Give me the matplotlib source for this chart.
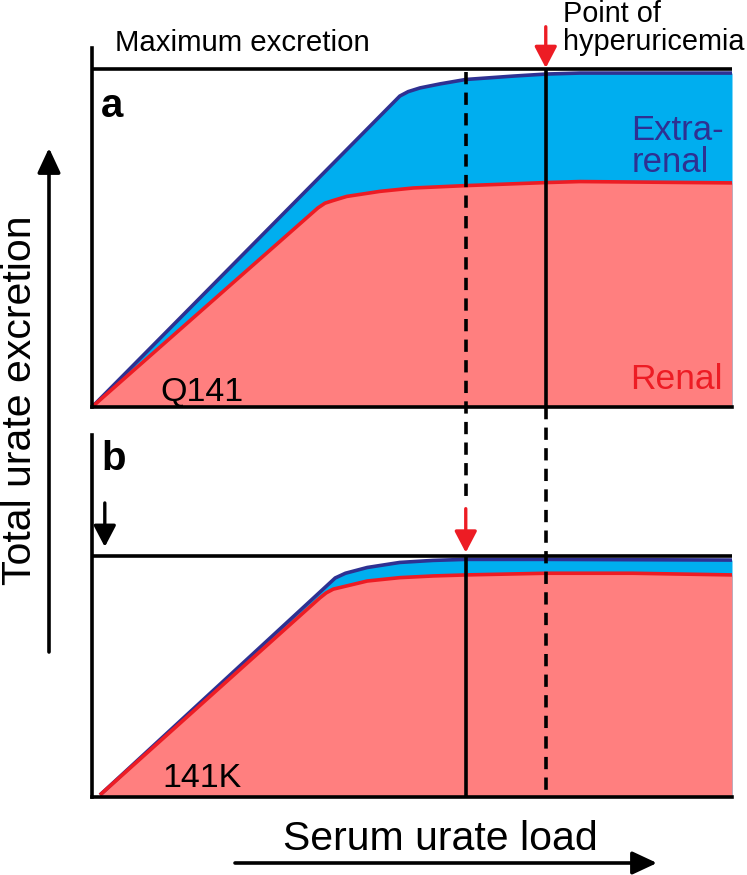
import matplotlib
matplotlib.use('Agg')
import matplotlib.pyplot as plt
from matplotlib.transforms import blended_transform_factory

plt.rcParams['font.family'] = ['Liberation Sans', 'DejaVu Sans']

# ---------------- data (serum urate load 0-100, excretion 0-100 = max in panel a)
x_total_a = [0, 48.1, 49.4, 51.25, 54.4, 58.4, 65.8, 70.9, 76.25, 100]
y_total_a = [0, 92.0, 93.3, 94.4, 95.6, 96.9, 97.9, 98.5, 98.8, 98.8]
x_renal_a = [0, 35.3, 36.4, 37.7, 39.8, 45.0, 50.2, 58.4, 70.9, 76.25, 100]
y_renal_a = [0, 58.9, 60.3, 61.1, 62.3, 63.8, 64.8, 65.5, 66.4, 66.7, 66.3]

x_total_b = [1.25, 38.0, 39.6, 43.0, 48.1, 53.3, 58.4, 70.9, 100]
y_total_b = [0.6, 64.8, 66.2, 67.9, 69.4, 70.0, 70.3, 70.3, 70.1]
x_renal_b = [1.25, 35.6, 36.6, 37.7, 43.0, 48.1, 53.3, 58.4, 70.9, 84.5, 100]
y_renal_b = [0.6, 58.9, 60.4, 61.5, 63.9, 64.9, 65.4, 65.7, 66.2, 66.2, 65.7]

max_a = 100.0      # maximum excretion, Q141
max_b = 71.3       # maximum excretion, 141K
x_hyper_a = 70.9   # point of hyperuricemia, Q141
x_hyper_b = 58.4   # point of hyperuricemia, 141K

# ---------------- style
BLUE_FILL = '#00aeef'
BLUE_LINE = '#2e3192'
RED_FILL = '#ff7f7f'
RED_LINE = '#ed1c24'
LW_AX = 2.6
LW_CURVE = 2.6

W, H = 747, 875
fig = plt.figure(figsize=(W / 100, H / 100), dpi=100)


def fx(px):
    return px / W


def fy(py):
    return 1 - py / H


SCALE_Y = 3.38  # px per excretion unit
ax_a = fig.add_axes([fx(92), fy(407), (732 - 92) / W, (407 - 48) / H])
ax_b = fig.add_axes([fx(92), fy(797), (732 - 92) / W, (797 - 435) / H])
ax_a.set_ylim(0, (407 - 48) / SCALE_Y)
ax_b.set_ylim(0, (797 - 435) / SCALE_Y)

for ax in (ax_a, ax_b):
    ax.set_xlim(0, 100)
    ax.set_xticks([])
    ax.set_yticks([])
    ax.patch.set_alpha(0)
    for s in ('top', 'right'):
        ax.spines[s].set_visible(False)
    for s in ('left', 'bottom'):
        ax.spines[s].set_linewidth(LW_AX)
        ax.spines[s].set_zorder(6)


def draw_panel(ax, xt, yt, xr, yr, ymax):
    ax.fill_between(xt, yt, 0, color=BLUE_FILL, lw=0, zorder=1)
    ax.fill_between(xr, yr, 0, color=RED_FILL, lw=0, zorder=2)
    ax.plot(xt, yt, color=BLUE_LINE, lw=LW_CURVE, zorder=3,
            solid_joinstyle='round', solid_capstyle='butt')
    ax.plot(xr, yr, color=RED_LINE, lw=LW_CURVE, zorder=4,
            solid_joinstyle='round', solid_capstyle='butt')
    ax.plot([0, 100], [ymax, ymax], color='black', lw=LW_AX, zorder=5,
            solid_capstyle='butt', clip_on=False)


draw_panel(ax_a, x_total_a, y_total_a, x_renal_a, y_renal_a, max_a)
draw_panel(ax_b, x_total_b, y_total_b, x_renal_b, y_renal_b, max_b)

DASH = (3.4, 2.3)
# solid hyperuricemia lines
ax_a.plot([x_hyper_a, x_hyper_a], [0, max_a], color='black', lw=LW_AX, zorder=5,
          solid_capstyle='butt')
ax_b.plot([x_hyper_b, x_hyper_b], [0, max_b], color='black', lw=LW_AX, zorder=5,
          solid_capstyle='butt')

# dashed projections (x in data, y in figure fraction)
tr_a = blended_transform_factory(ax_a.transData, fig.transFigure)
tr_b = blended_transform_factory(ax_b.transData, fig.transFigure)
ax_a.plot([x_hyper_b, x_hyper_b], [fy(72), fy(500)], transform=tr_a, color='black',
          lw=LW_AX, dashes=DASH, zorder=5, clip_on=False)
ax_b.plot([x_hyper_a, x_hyper_a], [fy(407), fy(797)], transform=tr_b, color='black',
          lw=LW_AX, dashes=DASH, zorder=5, clip_on=False)

# arrows
ARROW = dict(arrowstyle='-|>,head_length=1.3,head_width=0.68', lw=2.4,
             shrinkA=0, shrinkB=0, mutation_scale=10)
ax_a.annotate('', xy=(x_hyper_a, max_a + 0.3), xytext=(x_hyper_a, max_a + 12.5),
              arrowprops=dict(color=RED_LINE, **ARROW), annotation_clip=False)
ax_b.annotate('', xy=(x_hyper_b, max_b + 1.0), xytext=(x_hyper_b, max_b + 14),
              arrowprops=dict(color=RED_LINE, **ARROW), annotation_clip=False)
ax_b.annotate('', xy=(2.0, max_b + 2.7), xytext=(2.0, max_b + 15.7),
              arrowprops=dict(color='black', **ARROW), annotation_clip=False)

# axis arrows
fig.patches.append(matplotlib.patches.FancyArrowPatch(
    (fx(49), fy(652)), (fx(49), fy(148)), transform=fig.transFigure,
    arrowstyle='-|>,head_length=1.5,head_width=0.7', mutation_scale=10,
    lw=2.6, color='black', shrinkA=0, shrinkB=0))
fig.patches.append(matplotlib.patches.FancyArrowPatch(
    (fx(235), fy(863)), (fx(657), fy(863)), transform=fig.transFigure,
    arrowstyle='-|>,head_length=1.5,head_width=0.7', mutation_scale=10,
    lw=2.6, color='black', shrinkA=0, shrinkB=0))

# texts
fig.text(fx(115), fy(51), 'Maximum excretion', fontsize=21.2, va='baseline', ha='left')
fig.text(fx(563), fy(22), 'Point of', fontsize=20.8, va='baseline', ha='left')
fig.text(fx(563), fy(50), 'hyperuricemia', fontsize=20.8, va='baseline', ha='left')
fig.text(fx(631), fy(140), 'Extra-', fontsize=25, va='baseline', ha='left',
         color=BLUE_LINE, zorder=10)
fig.text(fx(632), fy(172), 'renal', fontsize=25, va='baseline', ha='left',
         color=BLUE_LINE, zorder=10)
fig.text(fx(630), fy(389), 'Renal', fontsize=25.5, va='baseline', ha='left',
         color=RED_LINE, zorder=10)
fig.text(fx(160), fy(401), 'Q141', fontsize=24.5, va='baseline', ha='left', zorder=10)
fig.text(fx(162), fy(787), '141K', fontsize=24.5, va='baseline', ha='left', zorder=10)
fig.text(fx(101), fy(117), 'a', fontsize=29, fontweight='bold', va='baseline', ha='left')
fig.text(fx(101), fy(470), 'b', fontsize=29, fontweight='bold', va='baseline', ha='left')
fig.text(fx(283), fy(850), 'Serum urate load', fontsize=29.5, va='baseline', ha='left')
fig.text(fx(20), fy(400), 'Total urate excretion', fontsize=29.5, rotation=90,
         va='center', ha='center')

fig.savefig('out.png', dpi=100)
